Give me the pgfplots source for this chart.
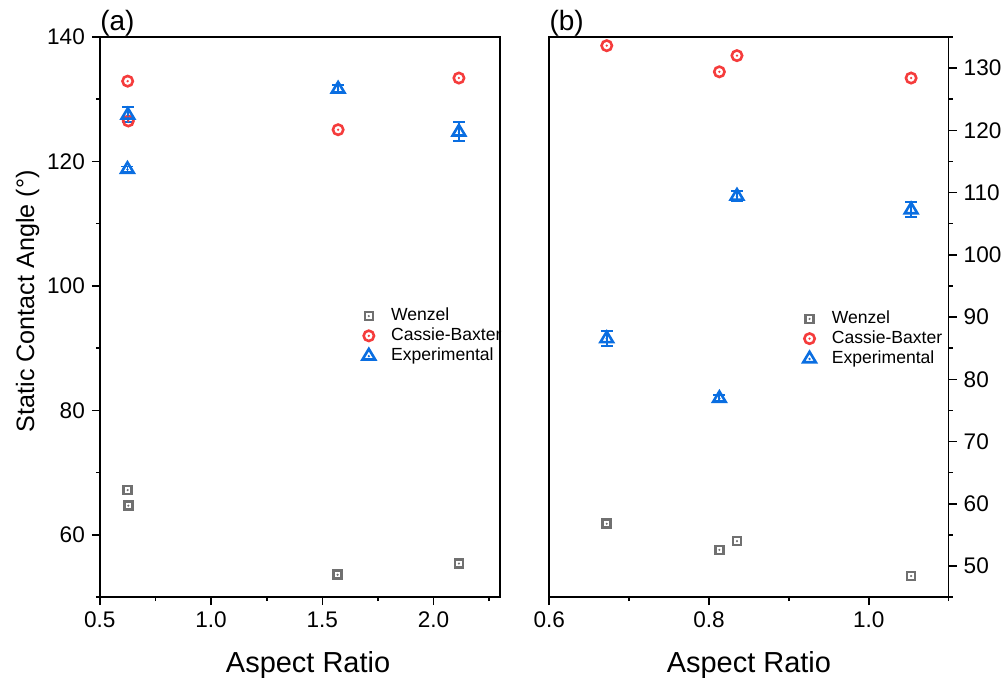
\documentclass[border=0pt]{standalone}
\usepackage{fontspec}
\setmainfont{Liberation Sans}
\usepackage{pgfplots}
\pgfplotsset{compat=1.18}

\definecolor{wgray}{RGB}{112,112,112}
\definecolor{cbred}{RGB}{245,60,60}
\definecolor{exblue}{RGB}{10,110,225}

% open markers with a dot in the middle, as Origin draws them
\pgfdeclareplotmark{sqdot}{%
  \pgfpathrectangle{\pgfpoint{-\pgfplotmarksize}{-\pgfplotmarksize}}{\pgfpoint{2\pgfplotmarksize}{2\pgfplotmarksize}}%
  \pgfusepathqstroke
  \pgfpathcircle{\pgfpointorigin}{0.3\pgfplotmarksize}\pgfusepathqfill}
\pgfdeclareplotmark{ocdot}{%
  \pgfpathcircle{\pgfpointorigin}{\pgfplotmarksize}\pgfusepathqstroke
  \pgfpathcircle{\pgfpointorigin}{0.25\pgfplotmarksize}\pgfusepathqfill}
\pgfdeclareplotmark{tridot}{%
  \pgfpathmoveto{\pgfpoint{0pt}{1.1\pgfplotmarksize}}%
  \pgfpathlineto{\pgfpoint{-1.05\pgfplotmarksize}{-0.65\pgfplotmarksize}}%
  \pgfpathlineto{\pgfpoint{1.05\pgfplotmarksize}{-0.65\pgfplotmarksize}}%
  \pgfpathclose\pgfusepathqstroke
  \pgfpathcircle{\pgfpoint{0pt}{-0.1\pgfplotmarksize}}{0.22\pgfplotmarksize}\pgfusepathqfill}

\pgfplotsset{
  panel/.style={
    scale only axis, width=200.5pt, height=280.5pt, clip=false,
    axis line style={line width=0.8pt},
    tick align=outside, major tick length=4pt, minor tick length=2pt,
    every tick/.style={black, line width=0.8pt},
    xtick pos=bottom,
    tick label style={font=\fontsize{11.3}{13}\selectfont},
    xlabel style={font=\fontsize{14.5}{16}\selectfont, yshift=-5pt},
    ylabel style={font=\fontsize{12.6}{14}\selectfont, yshift=-3pt},
    /pgf/number format/assume math mode=true,
    xticklabel style={/pgf/number format/.cd, fixed, fixed zerofill, precision=1},
    legend cell align=left,
    legend style={draw=none, fill=none, font=\fontsize{8.8}{9.5}\selectfont,
      row sep=0pt, column sep=7pt, inner sep=0pt,
      nodes={inner xsep=1pt, inner ysep=1pt}},
  },
  wz/.style={only marks, mark=sqdot, mark size=2pt, wgray, line width=1.3pt},
  cb/.style={only marks, mark=ocdot, mark size=2.6pt, cbred, line width=1.3pt},
  ex/.style={only marks, mark=tridot, mark size=3pt, exblue, line width=1.3pt,
    error bars/.cd, y dir=both, y explicit,
    error bar style={line width=0.9pt, exblue},
    error mark options={rotate=90, mark size=3pt, line width=0.9pt, exblue}},
}

\begin{document}
\begin{tikzpicture}
\begin{axis}[panel, name=A, at={(0,0)}, anchor=south west,
  xmin=0.5, xmax=2.3, ymin=50, ymax=140,
  xtick={0.5,1.0,1.5,2.0}, minor xtick={0.75,1.25,1.75,2.25},
  ytick={60,80,...,140}, minor ytick={50,70,...,130},
  ytick pos=left,
  xlabel={Aspect Ratio}, ylabel={Static Contact Angle (°)},
  xlabel style={at={(ticklabel cs:0.52)}},
  ylabel style={at={(ticklabel cs:0.528)}},
  legend style={at={(rel axis cs:0.655,0.52)}, anchor=north west},
]
\addplot[wz] coordinates {(0.625,67.2)(0.628,64.7)(1.569,53.6)(2.114,55.4)};
\addlegendentry{Wenzel}
\addplot[cb] coordinates {(0.625,132.9)(0.628,126.5)(1.571,125.1)(2.114,133.4)};
\addlegendentry{Cassie-Baxter}
\addplot[ex] table[y error=e] {
x y e
0.626 127.5 1.2
0.624 118.8 0.4
1.571 131.7 0.6
2.114 124.8 1.5
};
\addlegendentry{Experimental}
\node[anchor=base west, inner sep=0pt, font=\fontsize{14}{16}\selectfont]
  at (rel axis cs:0.0,1.0) [yshift=3pt] {(a)};
\end{axis}

\begin{axis}[panel, name=B, at={(225pt,0)}, anchor=south west,
  width=200pt,
  xmin=0.6, xmax=1.1, ymin=45, ymax=135,
  xtick={0.6,0.8,1.0}, minor xtick={0.7,0.9,1.1},
  ytick={50,60,...,130}, minor ytick={45,55,...,135},
  ytick pos=right,
  xlabel={Aspect Ratio},
  legend style={at={(rel axis cs:0.635,0.515)}, anchor=north west},
]
\addplot[wz] coordinates {(0.672,56.8)(0.813,52.6)(0.835,54.0)(1.053,48.4)};
\addlegendentry{Wenzel}
\addplot[cb] coordinates {(0.672,133.6)(0.813,129.4)(0.835,132.0)(1.053,128.4)};
\addlegendentry{Cassie-Baxter}
\addplot[ex] table[y error=e] {
x y e
0.672 86.6 1.2
0.813 77.0 0.5
0.835 109.5 0.8
1.053 107.3 1.2
};
\addlegendentry{Experimental}
\node[anchor=base west, inner sep=0pt, font=\fontsize{14}{16}\selectfont]
  at (rel axis cs:0.0,1.0) [yshift=3pt] {(b)};
\end{axis}
\path[use as bounding box] (-50pt,-41pt) rectangle (454pt,299pt);
\end{tikzpicture}
\end{document}
